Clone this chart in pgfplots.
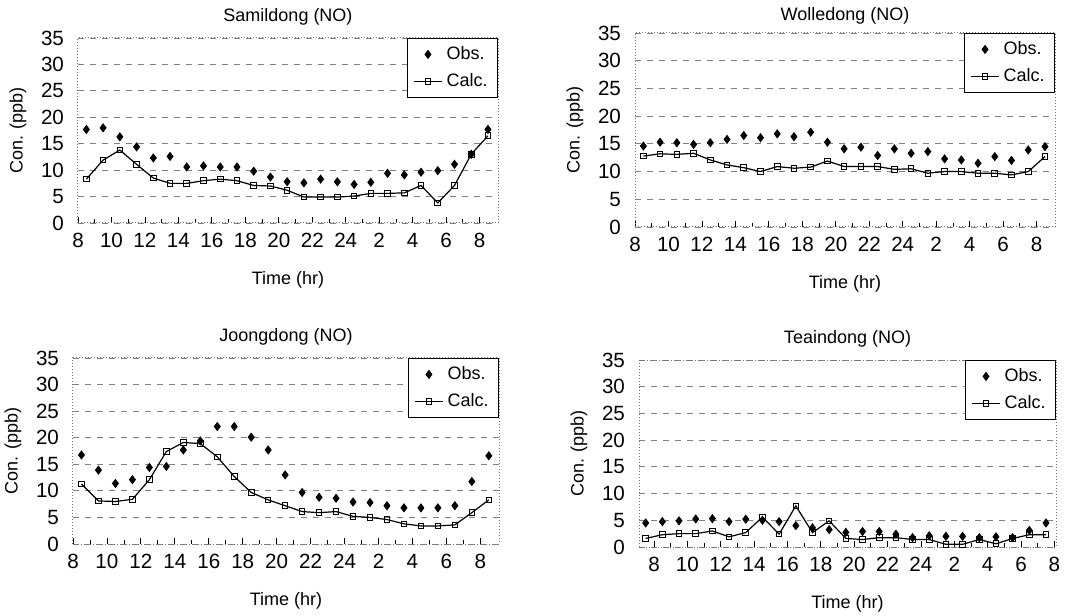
\documentclass[border=0pt]{standalone}
\usepackage{pgfplots}
\pgfplotsset{compat=1.18}
\usepackage{pgfplotstable}
\usepackage{fontspec}
\setmainfont{Liberation Sans}

\pgfplotstableread{
x obs calc
8.5 17.7 8.3
9.5 18.0 11.9
10.5 16.3 13.8
11.5 14.4 11.1
12.5 12.3 8.5
13.5 12.6 7.5
14.5 10.6 7.5
15.5 10.8 8.0
16.5 10.6 8.3
17.5 10.6 8.0
18.5 9.8 7.1
19.5 8.7 7.0
20.5 7.8 6.2
21.5 7.6 4.9
22.5 8.3 4.9
23.5 7.8 4.9
24.5 7.3 5.1
25.5 7.7 5.6
26.5 9.4 5.6
27.5 9.1 5.7
28.5 9.6 7.1
29.5 9.9 3.8
30.5 11.1 7.1
31.5 13.0 13.0
32.5 17.7 16.5
}\samil

\pgfplotstableread{
x obs calc
8.5 14.6 12.8
9.5 15.3 13.2
10.5 15.2 13.1
11.5 14.9 13.3
12.5 15.2 12.1
13.5 15.8 11.2
14.5 16.5 10.7
15.5 16.1 10.0
16.5 16.8 10.9
17.5 16.3 10.6
18.5 17.1 10.8
19.5 15.3 11.9
20.5 14.1 10.9
21.5 14.4 10.9
22.5 12.9 10.9
23.5 14.1 10.4
24.5 13.3 10.5
25.5 13.6 9.7
26.5 12.3 10.0
27.5 12.1 10.0
28.5 11.5 9.7
29.5 12.7 9.7
30.5 12.0 9.4
31.5 13.9 10.0
32.5 14.5 12.7
}\wolle

\pgfplotstableread{
x obs calc
8.5 16.75 11.3
9.5 13.9 8.1
10.5 11.4 8.0
11.5 12.1 8.4
12.5 14.4 12.1
13.5 14.6 17.4
14.5 17.7 19.1
15.5 19.4 18.9
16.5 22.1 16.4
17.5 22.1 12.7
18.5 20.1 9.7
19.5 17.7 8.3
20.5 13.0 7.2
21.5 9.7 6.1
22.5 8.8 5.9
23.5 8.6 6.1
24.5 7.9 5.2
25.5 7.8 5.0
26.5 7.2 4.6
27.5 6.8 3.8
28.5 6.8 3.4
29.5 6.8 3.4
30.5 7.2 3.6
31.5 11.75 5.9
32.5 16.6 8.3
}\joong

\pgfplotstableread{
x obs calc
7.5 4.5 1.6
8.5 4.75 2.3
9.5 4.9 2.5
10.5 5.25 2.5
11.5 5.3 3.0
12.5 4.75 1.9
13.5 5.2 2.7
14.5 5.0 5.6
15.5 4.75 2.4
16.5 4.0 7.7
17.5 3.6 2.7
18.5 3.25 4.9
19.5 2.75 1.6
20.5 2.9 1.4
21.5 2.9 1.75
22.5 2.4 1.75
23.5 1.75 1.4
24.5 2.1 1.4
25.5 2.0 0.5
26.5 2.0 0.5
27.5 1.75 1.4
28.5 1.9 0.6
29.5 1.75 1.6
30.5 3.1 2.3
31.5 4.5 2.3
}\teain

\pgfplotsset{
  panel/.style={
    scale only axis, anchor=south west,
    xmin=8, xmax=33.1, ymin=0, ymax=35,
    xtick={8,10,...,32},
    xticklabels={8,10,12,14,16,18,20,22,24,2,4,6,8},
    minor xtick={9,11,...,31},
    ytick={0,5,...,35},
    ymajorgrids,
    major grid style={black!50, dashed, line width=0.4pt},
    axis line style={black!55, densely dotted, line width=0.5pt},
    xtick pos=bottom, ytick pos=left,
    ytick style={draw=none},
    xtick style={black, line width=0.4pt},
    major tick length=3pt, minor tick length=2pt,
    tick label style={font=\fontsize{10.3}{12}\selectfont},
    yticklabel style={xshift=-3.5pt},
    xticklabel style={yshift=-1.5pt},
    /pgf/number format/assume math mode=true,
    label style={font=\fontsize{9}{11}\selectfont},
    title style={font=\fontsize{9}{11}\selectfont, yshift=-3pt},
    xlabel={Time (hr)}, ylabel={Con. (ppb)},
    xlabel shift=5pt, ylabel shift=0.5pt,
    legend style={at={(1,1)}, anchor=north east, draw=black,
      font=\fontsize{9}{11}\selectfont, row sep=1.5pt,
      inner xsep=3pt, inner ysep=2pt},
    legend cell align=left,
  },
  obs/.style={only marks, mark=diamond*, mark size=2pt, black,
    legend image code/.code={\draw[mark repeat=2,mark phase=2,##1] plot coordinates {(0pt,0pt) (7pt,0pt) (14pt,0pt)};}},
  calc/.style={black, line width=0.6pt, mark=square, mark size=1.4pt,
    mark options={solid, line width=0.5pt},
    legend image code/.code={\draw[mark repeat=2,mark phase=2,##1] plot coordinates {(0pt,0pt) (7pt,0pt) (14pt,0pt)};}},
}

\begin{document}
\begin{tikzpicture}
\useasboundingbox (0,0) rectangle (537pt,307.5pt);

\begin{axis}[panel, at={(39pt,196pt)}, width=210pt, height=92.5pt,
  title={Samildong (NO)}]
\addplot[obs] table[x=x,y=obs] {\samil};
\addplot[calc] table[x=x,y=calc] {\samil};
\legend{Obs., Calc.}
\end{axis}

\begin{axis}[panel, at={(317.5pt,194pt)}, width=210pt, height=97pt,
  title={Wolledong (NO)}, title style={yshift=-2pt}]
\addplot[obs] table[x=x,y=obs] {\wolle};
\addplot[calc] table[x=x,y=calc] {\wolle};
\legend{Obs., Calc.}
\end{axis}

\begin{axis}[panel, at={(36.5pt,35.5pt)}, width=213pt, height=93pt,
  title={Joongdong (NO)}]
\addplot[obs] table[x=x,y=obs] {\joong};
\addplot[calc] table[x=x,y=calc] {\joong};
\legend{Obs., Calc.}
\end{axis}

\begin{axis}[panel, at={(319.5pt,34pt)}, width=208.5pt, height=93.5pt,
  xmin=7.1, xmax=32.1, minor xtick={7,9,...,31},
  title={Teaindong (NO)}]
\addplot[obs] table[x=x,y=obs] {\teain};
\addplot[calc] table[x=x,y=calc] {\teain};
\legend{Obs., Calc.}
\end{axis}
\end{tikzpicture}
\end{document}
